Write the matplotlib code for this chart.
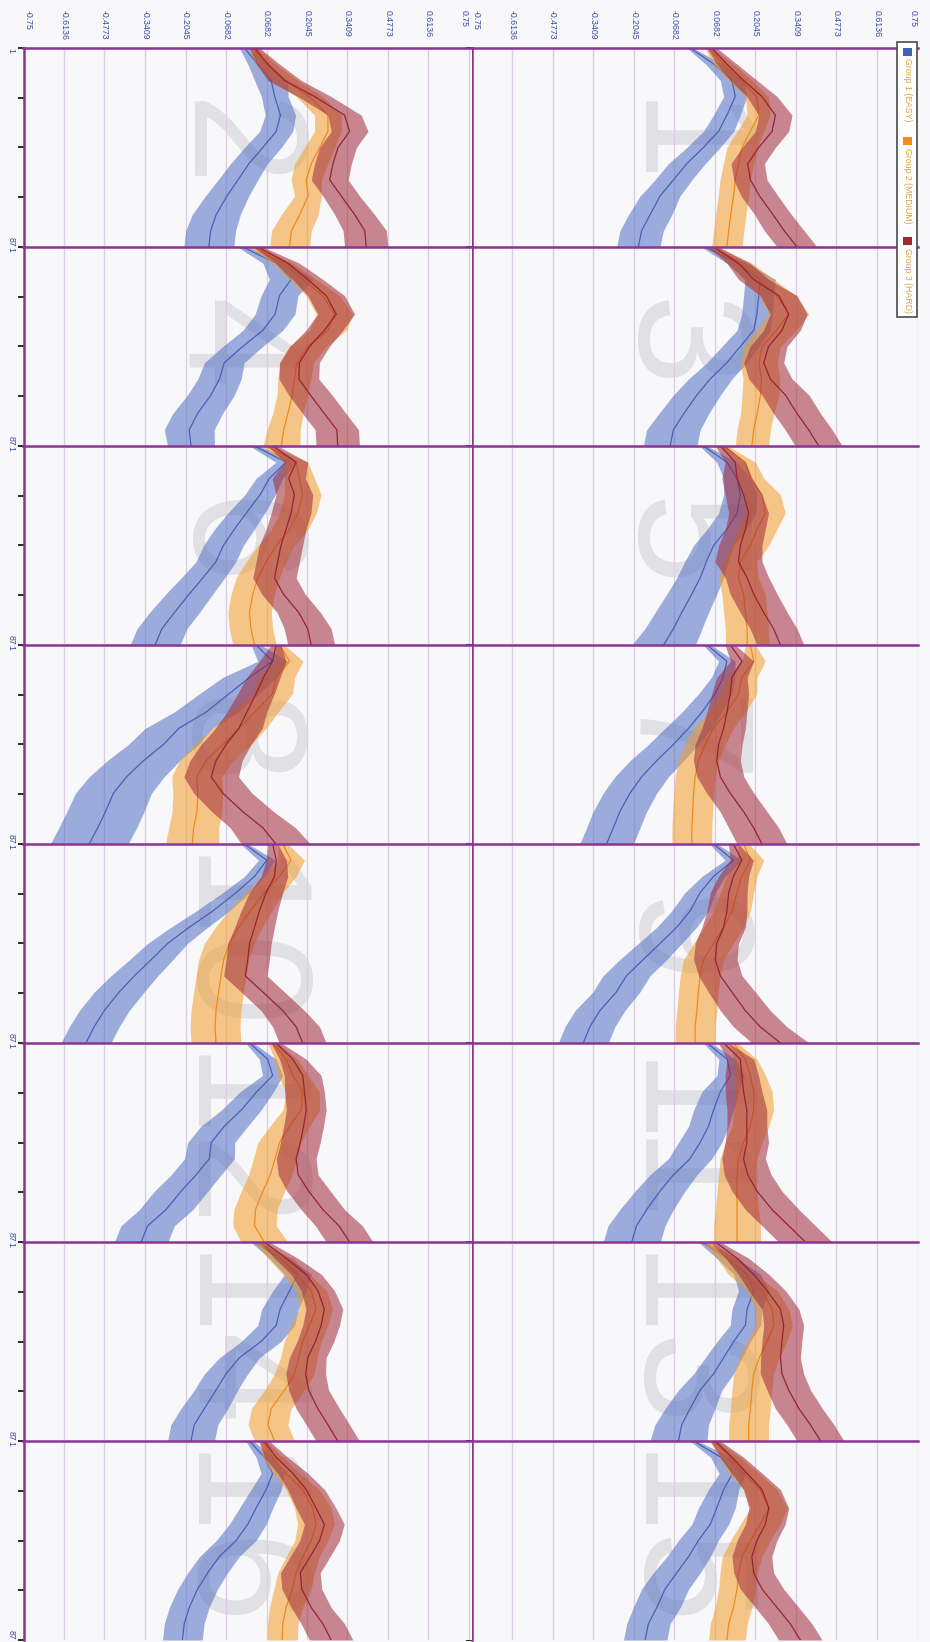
import numpy as np
import matplotlib
matplotlib.use("Agg")
import matplotlib.pyplot as plt
from matplotlib.patches import Rectangle
from matplotlib.transforms import offset_copy

plt.rcParams['font.family'] = ['Liberation Sans', 'DejaVu Sans']

# ---------------- data ----------------
T = [1, 8, 15, 22, 30, 37, 44, 51, 58, 65, 73, 80, 87]
XTICKS = [-0.75, -0.6136, -0.4773, -0.3409, -0.2045, -0.0682, 0.0682, 0.2045, 0.3409, 0.4773, 0.6136, 0.75]
XTICK_LABELS = ['-0.75', '-0.6136', '-0.4773', '-0.3409', '-0.2045', '-0.0682',
                '0.0682', '0.2045', '0.3409', '0.4773', '0.6136', '0.75']
YTICKS = [1, 22.5, 44, 65.5, 87]
YTICK_LABELS = ['1', '', '', '', '87']
PANELS = list(range(1, 17))
GROUPS = ['Group 1 (EASY)', 'Group 2 (MEDIUM)', 'Group 3 (HARD)']

G1_MEAN = [
    [-0.015, 0.066, 0.126, 0.137, 0.109, 0.081, 0.03, -0.026, -0.071, -0.116, -0.149, -0.178, -0.189],
    [-0.006, 0.039, 0.084, 0.096, 0.115, 0.101, 0.056, 0.009, -0.028, -0.065, -0.101, -0.12, -0.126],
    [0.036, 0.143, 0.221, 0.216, 0.21, 0.199, 0.154, 0.109, 0.053, 0.008, -0.036, -0.071, -0.082],
    [-0.012, 0.101, 0.151, 0.112, 0.097, 0.056, -0.012, -0.074, -0.09, -0.119, -0.164, -0.192, -0.186],
    [0.03, 0.109, 0.143, 0.154, 0.143, 0.109, 0.064, 0.04, 0.019, -0.009, -0.043, -0.071, -0.104],
    [0.028, 0.134, 0.078, 0.047, 0.0, -0.04, -0.077, -0.102, -0.146, -0.192, -0.242, -0.284, -0.307],
    [0.042, 0.109, 0.096, 0.07, 0.025, -0.02, -0.071, -0.127, -0.178, -0.217, -0.251, -0.273, -0.296],
    [0.033, 0.089, 0.011, -0.057, -0.135, -0.227, -0.279, -0.346, -0.403, -0.447, -0.474, -0.5, -0.529],
    [0.064, 0.131, 0.064, 0.019, -0.015, -0.06, -0.116, -0.173, -0.229, -0.263, -0.318, -0.352, -0.374],
    [-0.006, 0.069, 0.028, -0.034, -0.113, -0.192, -0.265, -0.32, -0.377, -0.428, -0.478, -0.512, -0.54],
    [0.042, 0.11, 0.121, 0.087, 0.064, 0.047, 0.019, -0.015, -0.071, -0.116, -0.161, -0.195, -0.211],
    [0.011, 0.072, 0.089, 0.036, -0.017, -0.074, -0.118, -0.124, -0.169, -0.219, -0.27, -0.332, -0.354],
    [0.025, 0.109, 0.177, 0.199, 0.177, 0.171, 0.132, 0.098, 0.064, 0.019, -0.015, -0.043, -0.054],
    [0.028, 0.112, 0.174, 0.146, 0.114, 0.101, 0.05, -0.023, -0.068, -0.102, -0.141, -0.175, -0.186],
    [-0.003, 0.088, 0.128, 0.098, 0.075, 0.053, 0.013, -0.02, -0.06, -0.099, -0.127, -0.155, -0.166],
    [0.011, 0.061, 0.089, 0.067, 0.033, 0.005, -0.034, -0.091, -0.13, -0.164, -0.192, -0.209, -0.215],
]
G1_HW = [
    [0.011, 0.028, 0.039, 0.039, 0.045, 0.051, 0.056, 0.062, 0.062, 0.067, 0.073, 0.073, 0.073],
    [0.017, 0.034, 0.056, 0.045, 0.051, 0.056, 0.062, 0.062, 0.067, 0.073, 0.081, 0.084, 0.084],
    [0.013, 0.034, 0.051, 0.051, 0.051, 0.056, 0.062, 0.067, 0.073, 0.079, 0.084, 0.09, 0.09],
    [0.017, 0.045, 0.073, 0.062, 0.067, 0.067, 0.067, 0.067, 0.073, 0.079, 0.084, 0.084, 0.079],
    [0.013, 0.034, 0.045, 0.056, 0.062, 0.067, 0.067, 0.073, 0.079, 0.084, 0.09, 0.096, 0.107],
    [0.017, 0.034, 0.045, 0.051, 0.062, 0.067, 0.067, 0.067, 0.073, 0.079, 0.084, 0.084, 0.084],
    [0.013, 0.028, 0.039, 0.056, 0.067, 0.079, 0.084, 0.09, 0.09, 0.09, 0.09, 0.09, 0.09],
    [0.017, 0.05, 0.09, 0.1, 0.108, 0.113, 0.118, 0.122, 0.126, 0.128, 0.13, 0.131, 0.131],
    [0.013, 0.028, 0.039, 0.051, 0.062, 0.067, 0.073, 0.079, 0.079, 0.079, 0.084, 0.084, 0.084],
    [0.013, 0.028, 0.034, 0.045, 0.056, 0.062, 0.067, 0.073, 0.079, 0.084, 0.084, 0.084, 0.084],
    [0.013, 0.028, 0.045, 0.062, 0.067, 0.067, 0.073, 0.073, 0.079, 0.084, 0.09, 0.096, 0.096],
    [0.013, 0.028, 0.034, 0.056, 0.067, 0.079, 0.079, 0.084, 0.084, 0.09, 0.09, 0.09, 0.09],
    [0.013, 0.034, 0.045, 0.051, 0.051, 0.051, 0.056, 0.062, 0.067, 0.073, 0.084, 0.09, 0.096],
    [0.013, 0.034, 0.045, 0.056, 0.062, 0.062, 0.067, 0.067, 0.073, 0.073, 0.079, 0.079, 0.079],
    [0.013, 0.034, 0.045, 0.051, 0.062, 0.062, 0.067, 0.073, 0.079, 0.079, 0.079, 0.073, 0.073],
    [0.013, 0.028, 0.039, 0.051, 0.056, 0.062, 0.067, 0.067, 0.067, 0.067, 0.067, 0.067, 0.067],
]
G2_MEAN = [
    [0.047, 0.098, 0.154, 0.21, 0.216, 0.188, 0.16, 0.148, 0.137, 0.131, 0.122, 0.115, 0.109],
    [0.022, 0.067, 0.129, 0.213, 0.275, 0.275, 0.247, 0.219, 0.202, 0.208, 0.18, 0.152, 0.146],
    [0.064, 0.154, 0.216, 0.278, 0.317, 0.275, 0.227, 0.217, 0.225, 0.222, 0.211, 0.199, 0.193],
    [0.027, 0.123, 0.19, 0.258, 0.297, 0.275, 0.207, 0.17, 0.162, 0.155, 0.14, 0.126, 0.118],
    [0.098, 0.171, 0.188, 0.227, 0.238, 0.21, 0.188, 0.154, 0.148, 0.165, 0.171, 0.177, 0.177],
    [0.067, 0.168, 0.179, 0.19, 0.174, 0.146, 0.101, 0.067, 0.039, 0.022, 0.011, 0.016, 0.028],
    [0.188, 0.199, 0.159, 0.148, 0.109, 0.064, 0.036, 0.013, 0.002, -0.003, -0.006, -0.009, -0.009],
    [0.112, 0.146, 0.101, 0.089, 0.028, -0.023, -0.079, -0.135, -0.167, -0.163, -0.166, -0.177, -0.182],
    [0.166, 0.188, 0.159, 0.143, 0.126, 0.098, 0.064, 0.03, 0.019, 0.013, 0.008, 0.002, 0.002],
    [0.123, 0.151, 0.112, 0.061, 0.013, -0.025, -0.057, -0.076, -0.085, -0.093, -0.102, -0.105, -0.102],
    [0.131, 0.171, 0.188, 0.199, 0.199, 0.188, 0.165, 0.148, 0.143, 0.143, 0.143, 0.143, 0.143],
    [0.089, 0.134, 0.157, 0.19, 0.185, 0.146, 0.112, 0.097, 0.081, 0.056, 0.031, 0.028, 0.061],
    [0.042, 0.109, 0.159, 0.227, 0.261, 0.267, 0.244, 0.218, 0.199, 0.193, 0.188, 0.182, 0.182],
    [0.039, 0.112, 0.168, 0.219, 0.235, 0.213, 0.19, 0.177, 0.162, 0.129, 0.084, 0.073, 0.095],
    [0.064, 0.12, 0.165, 0.221, 0.25, 0.221, 0.188, 0.16, 0.148, 0.143, 0.131, 0.115, 0.109],
    [0.056, 0.089, 0.134, 0.19, 0.224, 0.235, 0.219, 0.19, 0.168, 0.155, 0.134, 0.123, 0.121],
]
G2_HW = [
    [0.013, 0.034, 0.039, 0.039, 0.039, 0.045, 0.051, 0.051, 0.051, 0.051, 0.051, 0.051, 0.051],
    [0.017, 0.034, 0.045, 0.045, 0.045, 0.045, 0.051, 0.056, 0.051, 0.045, 0.062, 0.067, 0.067],
    [0.013, 0.039, 0.051, 0.062, 0.067, 0.067, 0.062, 0.062, 0.062, 0.062, 0.056, 0.056, 0.056],
    [0.017, 0.034, 0.045, 0.056, 0.062, 0.062, 0.062, 0.056, 0.056, 0.051, 0.051, 0.056, 0.062],
    [0.013, 0.034, 0.045, 0.062, 0.067, 0.067, 0.062, 0.056, 0.067, 0.073, 0.073, 0.073, 0.073],
    [0.013, 0.039, 0.051, 0.062, 0.062, 0.062, 0.062, 0.067, 0.073, 0.073, 0.073, 0.073, 0.073],
    [0.017, 0.039, 0.051, 0.062, 0.062, 0.067, 0.067, 0.067, 0.067, 0.067, 0.067, 0.067, 0.067],
    [0.017, 0.045, 0.062, 0.067, 0.079, 0.09, 0.096, 0.09, 0.084, 0.084, 0.084, 0.084, 0.09],
    [0.017, 0.045, 0.051, 0.056, 0.062, 0.067, 0.067, 0.067, 0.067, 0.067, 0.067, 0.067, 0.067],
    [0.017, 0.045, 0.056, 0.062, 0.073, 0.079, 0.084, 0.084, 0.084, 0.084, 0.084, 0.084, 0.084],
    [0.013, 0.039, 0.051, 0.062, 0.067, 0.062, 0.062, 0.062, 0.062, 0.067, 0.073, 0.079, 0.079],
    [0.017, 0.039, 0.051, 0.056, 0.062, 0.067, 0.073, 0.073, 0.073, 0.073, 0.073, 0.073, 0.079],
    [0.013, 0.034, 0.045, 0.051, 0.056, 0.062, 0.067, 0.067, 0.067, 0.067, 0.067, 0.067, 0.067],
    [0.013, 0.039, 0.045, 0.051, 0.056, 0.062, 0.062, 0.062, 0.067, 0.067, 0.067, 0.067, 0.067],
    [0.013, 0.034, 0.051, 0.056, 0.062, 0.067, 0.067, 0.067, 0.062, 0.062, 0.062, 0.062, 0.062],
    [0.013, 0.034, 0.045, 0.056, 0.062, 0.062, 0.056, 0.056, 0.062, 0.062, 0.056, 0.051, 0.051],
]
G3_MEAN = [
    [0.058, 0.109, 0.165, 0.227, 0.272, 0.261, 0.216, 0.179, 0.188, 0.219, 0.264, 0.302, 0.345],
    [0.028, 0.073, 0.129, 0.23, 0.331, 0.348, 0.309, 0.292, 0.281, 0.32, 0.365, 0.399, 0.404],
    [0.064, 0.148, 0.199, 0.283, 0.317, 0.294, 0.249, 0.233, 0.255, 0.306, 0.345, 0.384, 0.418],
    [0.039, 0.14, 0.207, 0.269, 0.303, 0.263, 0.213, 0.179, 0.177, 0.216, 0.263, 0.305, 0.308],
    [0.087, 0.137, 0.143, 0.165, 0.182, 0.171, 0.154, 0.148, 0.177, 0.199, 0.233, 0.266, 0.289],
    [0.089, 0.168, 0.143, 0.162, 0.151, 0.134, 0.117, 0.106, 0.095, 0.125, 0.177, 0.207, 0.219],
    [0.12, 0.16, 0.126, 0.12, 0.109, 0.098, 0.081, 0.075, 0.087, 0.12, 0.165, 0.199, 0.227],
    [0.1, 0.089, 0.058, 0.033, 0.002, -0.025, -0.068, -0.102, -0.118, -0.079, -0.012, 0.056, 0.1],
    [0.131, 0.159, 0.131, 0.115, 0.109, 0.098, 0.075, 0.07, 0.087, 0.126, 0.171, 0.221, 0.289],
    [0.089, 0.101, 0.095, 0.067, 0.044, 0.028, 0.011, 0.005, -0.003, 0.056, 0.123, 0.168, 0.19],
    [0.098, 0.154, 0.159, 0.165, 0.176, 0.176, 0.176, 0.165, 0.179, 0.21, 0.261, 0.317, 0.373],
    [0.1, 0.157, 0.19, 0.196, 0.202, 0.193, 0.182, 0.168, 0.175, 0.21, 0.258, 0.312, 0.348],
    [0.07, 0.143, 0.199, 0.244, 0.289, 0.3, 0.294, 0.289, 0.294, 0.317, 0.351, 0.39, 0.424],
    [0.061, 0.134, 0.202, 0.241, 0.263, 0.252, 0.233, 0.207, 0.2, 0.21, 0.241, 0.275, 0.308],
    [0.07, 0.126, 0.177, 0.227, 0.25, 0.238, 0.21, 0.193, 0.199, 0.227, 0.278, 0.322, 0.356],
    [0.061, 0.1, 0.157, 0.202, 0.235, 0.263, 0.247, 0.215, 0.182, 0.187, 0.219, 0.258, 0.286],
]
G3_HW = [
    [0.017, 0.034, 0.045, 0.051, 0.056, 0.056, 0.056, 0.056, 0.056, 0.062, 0.062, 0.067, 0.067],
    [0.017, 0.039, 0.056, 0.056, 0.056, 0.062, 0.062, 0.062, 0.062, 0.062, 0.067, 0.073, 0.073],
    [0.017, 0.039, 0.051, 0.062, 0.062, 0.062, 0.062, 0.067, 0.073, 0.079, 0.079, 0.079, 0.079],
    [0.017, 0.039, 0.051, 0.062, 0.062, 0.062, 0.067, 0.067, 0.067, 0.073, 0.073, 0.073, 0.073],
    [0.017, 0.034, 0.051, 0.062, 0.067, 0.067, 0.073, 0.079, 0.073, 0.079, 0.079, 0.079, 0.079],
    [0.017, 0.039, 0.056, 0.062, 0.067, 0.067, 0.073, 0.073, 0.073, 0.073, 0.073, 0.079, 0.079],
    [0.017, 0.039, 0.051, 0.062, 0.067, 0.073, 0.079, 0.079, 0.079, 0.079, 0.079, 0.084, 0.084],
    [0.017, 0.045, 0.056, 0.062, 0.067, 0.079, 0.084, 0.088, 0.092, 0.098, 0.104, 0.11, 0.116],
    [0.017, 0.039, 0.051, 0.062, 0.067, 0.073, 0.073, 0.073, 0.073, 0.079, 0.084, 0.09, 0.096],
    [0.017, 0.034, 0.045, 0.056, 0.062, 0.067, 0.073, 0.073, 0.073, 0.073, 0.073, 0.079, 0.079],
    [0.017, 0.045, 0.056, 0.062, 0.067, 0.067, 0.073, 0.073, 0.079, 0.084, 0.09, 0.09, 0.09],
    [0.017, 0.045, 0.062, 0.067, 0.067, 0.067, 0.067, 0.067, 0.067, 0.073, 0.073, 0.079, 0.079],
    [0.017, 0.039, 0.051, 0.062, 0.062, 0.067, 0.067, 0.067, 0.073, 0.073, 0.079, 0.079, 0.079],
    [0.017, 0.039, 0.051, 0.056, 0.062, 0.062, 0.062, 0.062, 0.067, 0.067, 0.073, 0.073, 0.073],
    [0.017, 0.039, 0.051, 0.062, 0.067, 0.067, 0.067, 0.067, 0.067, 0.073, 0.073, 0.073, 0.073],
    [0.017, 0.039, 0.051, 0.062, 0.067, 0.067, 0.067, 0.067, 0.067, 0.067, 0.067, 0.073, 0.073],
]

# ---------------- style ----------------
W, H = 930, 1642
BG = '#f8f8fa'
NAVY = '#3b48a3'
BORDER = '#8c3494'
GRID = '#dccde3'
BAND_COLORS = ['#4f6fc4', '#f39c2a', '#a02838']
LINE_COLORS = ['#4a5fb5', '#ef8a1a', '#962433']
LEGEND_COLORS = ['#3f63b8', '#f58a1f', '#a12a2c']

fig = plt.figure(figsize=(W / 100, H / 100), dpi=100, facecolor=BG)

def fx(px):
    return px / W

def fy(py):
    return 1 - py / H

ROW_TOP = 48
ROW_H = 199
LEFT_X0, LEFT_X1 = 23.5, 469.0
RIGHT_X0, RIGHT_X1 = 471.5, 917.5
left_extra = 0.75 + (RIGHT_X0 - LEFT_X1) * 1.5 / (LEFT_X1 - LEFT_X0)

means = [G1_MEAN, G2_MEAN, G3_MEAN]
hws = [G1_HW, G2_HW, G3_HW]

for idx, n in enumerate(PANELS):
    row = idx // 2
    right = (n % 2 == 1)
    top = ROW_TOP + row * ROW_H
    if right:
        x0, x1 = RIGHT_X0, RIGHT_X1
    else:
        x0, x1 = LEFT_X0, RIGHT_X0
    ax = fig.add_axes([fx(x0), fy(top + ROW_H), fx(x1) - fx(x0), ROW_H / H])
    ax.set_facecolor(BG)
    if right:
        ax.set_xlim(-0.75, 0.75)
    else:
        ax.set_xlim(-0.75, left_extra)
    ax.set_ylim(87, 1)
    ax.set_axisbelow(True)

    for s in ['right', 'bottom']:
        ax.spines[s].set_visible(False)
    for s in ['left', 'top']:
        ax.spines[s].set_color(BORDER)
        ax.spines[s].set_linewidth(1.8)
        ax.spines[s].set_zorder(5)

    ax.set_xticks(XTICKS)
    ax.set_xticklabels(XTICK_LABELS)
    ax.grid(axis='x', color=GRID, lw=1.0, zorder=0.5)
    ax.tick_params(axis='x', length=0, bottom=False, top=False,
                   labelbottom=False, labeltop=(row == 0), pad=27.0,
                   labelsize=6.3, labelcolor=NAVY, labelrotation=-90)
    if row == 0:
        ticks = ax.xaxis.get_major_ticks()
        for k, tk in enumerate(ticks):
            tk.label2.set_verticalalignment('top')
            if k == 0:
                tk.label2.set_horizontalalignment('left')
            elif k == len(ticks) - 1:
                tk.label2.set_horizontalalignment('right')
            else:
                tk.label2.set_horizontalalignment('center')

    ax.set_yticks(YTICKS)
    ax.set_yticklabels(YTICK_LABELS)
    ax.tick_params(axis='y', direction='out', length=4.5, width=1.4, color='#2a2a2a',
                   pad=1.5, labelsize=6.3, labelcolor=NAVY, labelrotation=-90)
    ylabs = ax.get_yticklabels()
    ylabs[0].set_verticalalignment('top')
    ylabs[-1].set_verticalalignment('bottom')
    for lab in ylabs:
        lab.set_horizontalalignment('right')

    # watermark panel number
    tr = offset_copy(ax.transAxes, fig=fig, x=-20, y=(-3 if n >= 10 else 2), units='dots')
    ax.text(0.5, 0.5, str(n), transform=tr, rotation=-90,
            ha='center', va='center', fontsize=118, color='#e1e1e5', zorder=0.3)

    for g in range(3):
        m = np.array(means[g][idx])
        w = np.array(hws[g][idx])
        ax.fill_betweenx(T, m - w, m + w, color=BAND_COLORS[g], alpha=0.55, lw=0, zorder=1 + g)
        ax.plot(m, T, color=LINE_COLORS[g], lw=0.9, zorder=1.5 + g)

# ---------------- legend (rotated) ----------------
fig.patches.append(Rectangle((fx(897), fy(317)), fx(917) - fx(897), (317 - 42) / H,
                             transform=fig.transFigure, facecolor='white',
                             edgecolor='#4a4a4a', lw=1.2, zorder=20))
leg_y = [48, 137, 237]
for g in range(3):
    y0 = leg_y[g]
    fig.patches.append(Rectangle((fx(903), fy(y0 + 8.5)), fx(911.5) - fx(903), 8.5 / H,
                                 transform=fig.transFigure, facecolor=LEGEND_COLORS[g],
                                 edgecolor='none', zorder=21))
    fig.text(fx(907.3), fy(y0 + 10.5), GROUPS[g], rotation=-90, ha='center', va='top',
             fontsize=6.3, color='#dca23e', zorder=22)

fig.savefig('out.png', dpi=100, facecolor=BG)
